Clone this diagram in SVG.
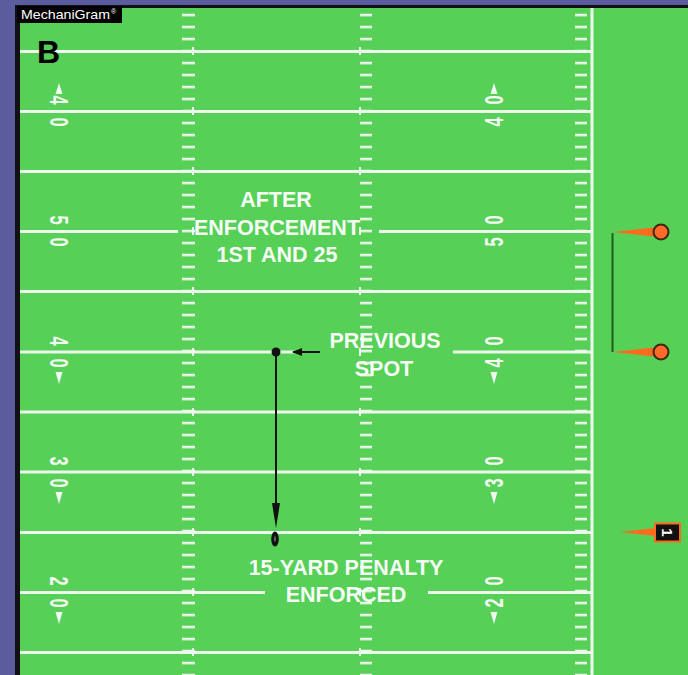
<svg xmlns="http://www.w3.org/2000/svg" width="688" height="675" viewBox="0 0 688 675">
<defs>
<style>
.yl{stroke:#eef8ee;stroke-width:3;fill:none}
.num{font-family:"Liberation Sans",Arial,sans-serif;font-size:25px;font-weight:bold;fill:#f2faf2;text-anchor:middle;dominant-baseline:central}
.lbl{font-family:"Liberation Sans",Arial,sans-serif;font-size:21.5px;font-weight:bold;fill:#f6fcf6;text-anchor:middle}
.arr{fill:#f2faf2}
.flag{fill:#ff6a1e}
.disc{fill:#ff6a2a;stroke:#3b2a12;stroke-width:2}
</style>
<pattern id="hash" patternUnits="userSpaceOnUse" x="0" y="49.75" width="688" height="12">
<rect x="182" y="0" width="13" height="2.5" fill="#eef8ee"/>
<rect x="360" y="0" width="12" height="2.5" fill="#eef8ee"/>
<rect x="575" y="0" width="12" height="2.5" fill="#eef8ee"/>
</pattern>
<marker id="ah" markerWidth="10" markerHeight="8" refX="9" refY="4" orient="auto" markerUnits="userSpaceOnUse">
<path d="M0,0 L10,4 L0,8 Z" fill="#111"/>
</marker>
</defs>

<rect x="0" y="0" width="688" height="675" fill="#5a5c9e"/>
<rect x="15" y="5" width="673" height="670" fill="#111"/>
<rect x="20" y="8" width="668" height="667" fill="#56d057"/>

<g id="field-marks">
<rect x="20" y="8" width="572" height="667" fill="url(#hash)"/>
<g fill="#eef8ee">
<rect x="192" y="47" width="2" height="8"/><rect x="359" y="47" width="2" height="8"/>
<rect x="192" y="107" width="2" height="8"/><rect x="359" y="107" width="2" height="8"/>
<rect x="192" y="167" width="2" height="8"/><rect x="359" y="167" width="2" height="8"/>
<rect x="192" y="227" width="2" height="8"/><rect x="359" y="227" width="2" height="8"/>
<rect x="192" y="287" width="2" height="8"/><rect x="359" y="287" width="2" height="8"/>
<rect x="192" y="348" width="2" height="8"/><rect x="359" y="348" width="2" height="8"/>
<rect x="192" y="408" width="2" height="8"/><rect x="359" y="408" width="2" height="8"/>
<rect x="192" y="468" width="2" height="8"/><rect x="359" y="468" width="2" height="8"/>
<rect x="192" y="528" width="2" height="8"/><rect x="359" y="528" width="2" height="8"/>
<rect x="192" y="588" width="2" height="8"/><rect x="359" y="588" width="2" height="8"/>
<rect x="192" y="648" width="2" height="8"/><rect x="359" y="648" width="2" height="8"/>
</g>
<path class="yl" d="M20,51.5H592 M20,111.5H592 M20,171.5H592 M20,231.5H178 M379,231.5H592 M20,291.5H592 M20,352H294 M453,352H592 M20,412H592 M20,472H592 M20,532.5H592 M20,592.5H265 M428,592.5H592 M20,652.5H592"/>
<rect x="590.5" y="8" width="3" height="667" fill="#eef8ee"/>
</g>

<g id="logo">
<rect x="17" y="6" width="105" height="17" fill="#000"/>
<text x="21" y="19" font-family="'Liberation Sans',Arial,sans-serif" font-size="13" fill="#fff" textLength="89" lengthAdjust="spacingAndGlyphs">MechaniGram</text>
<text x="111" y="14" font-family="'Liberation Sans',Arial,sans-serif" font-size="7" fill="#fff">®</text>
</g>

<text id="panel-letter" x="37" y="63" font-family="'Liberation Sans',Arial,sans-serif" font-size="32" font-weight="bold" fill="#000">B</text>

<g id="numbers-left">
<text class="num" transform="translate(59,100) rotate(90) scale(0.66,1)">4</text>
<text class="num" transform="translate(59,122) rotate(90) scale(0.66,1)">0</text>
<polygon class="arr" points="55.5,94 62.5,94 59,83"/>
<text class="num" transform="translate(59,220) rotate(90) scale(0.66,1)">5</text>
<text class="num" transform="translate(59,242) rotate(90) scale(0.66,1)">0</text>
<text class="num" transform="translate(59,341) rotate(90) scale(0.66,1)">4</text>
<text class="num" transform="translate(59,363) rotate(90) scale(0.66,1)">0</text>
<polygon class="arr" points="55.5,372 62.5,372 59,384"/>
<text class="num" transform="translate(59,461) rotate(90) scale(0.66,1)">3</text>
<text class="num" transform="translate(59,483) rotate(90) scale(0.66,1)">0</text>
<polygon class="arr" points="55.5,492 62.5,492 59,504"/>
<text class="num" transform="translate(59,581) rotate(90) scale(0.66,1)">2</text>
<text class="num" transform="translate(59,603) rotate(90) scale(0.66,1)">0</text>
<polygon class="arr" points="55.5,612 62.5,612 59,624"/>
</g>

<g id="numbers-right">
<text class="num" transform="translate(494,122) rotate(-90) scale(0.66,1)">4</text>
<text class="num" transform="translate(494,100) rotate(-90) scale(0.66,1)">0</text>
<polygon class="arr" points="490.5,94 497.5,94 494,83"/>
<text class="num" transform="translate(494,242) rotate(-90) scale(0.66,1)">5</text>
<text class="num" transform="translate(494,220) rotate(-90) scale(0.66,1)">0</text>
<text class="num" transform="translate(494,363) rotate(-90) scale(0.66,1)">4</text>
<text class="num" transform="translate(494,341) rotate(-90) scale(0.66,1)">0</text>
<polygon class="arr" points="490.5,372 497.5,372 494,384"/>
<text class="num" transform="translate(494,483) rotate(-90) scale(0.66,1)">3</text>
<text class="num" transform="translate(494,461) rotate(-90) scale(0.66,1)">0</text>
<polygon class="arr" points="490.5,492 497.5,492 494,504"/>
<text class="num" transform="translate(494,603) rotate(-90) scale(0.66,1)">2</text>
<text class="num" transform="translate(494,581) rotate(-90) scale(0.66,1)">0</text>
<polygon class="arr" points="490.5,612 497.5,612 494,624"/>
</g>

<g id="label-after">
<text class="lbl" x="276" y="207">AFTER</text>
<text class="lbl" x="277" y="235">ENFORCEMENT</text>
<text class="lbl" x="277" y="262">1ST AND 25</text>
</g>

<g id="label-previous">
<text class="lbl" x="385" y="348">PREVIOUS</text>
<text class="lbl" x="384" y="376">SPOT</text>
</g>

<g id="label-penalty">
<text class="lbl" x="346" y="575">15-YARD PENALTY</text>
<text class="lbl" x="346" y="602">ENFORCED</text>
</g>

<g id="connectors">
<line x1="276" y1="352" x2="276" y2="505" stroke="#111" stroke-width="2"/>
<polygon points="272,503 280,503 276,528" fill="#111"/>
<line x1="320" y1="352" x2="293" y2="352" stroke="#111" stroke-width="2" marker-end="url(#ah)"/>
</g>

<g id="previous-spot">
<circle cx="276" cy="352" r="4.5" fill="#111"/>
</g>

<g id="ball">
<ellipse cx="275" cy="539" rx="3.8" ry="7.5" fill="#111"/>
<ellipse cx="275" cy="539" rx="1" ry="3" fill="#666"/>
</g>

<g id="chain">
<line x1="612.5" y1="233" x2="612.5" y2="352" stroke="#1d5f1d" stroke-width="2"/>
</g>

<g id="stake-top">
<polygon class="flag" points="613,232 654,227.5 654,236.5"/>
<circle class="disc" cx="661" cy="232" r="7.5"/>
</g>

<g id="stake-bottom">
<polygon class="flag" points="613,352 654,347.5 654,356.5"/>
<circle class="disc" cx="661" cy="352" r="7.5"/>
</g>

<g id="down-marker">
<polygon class="flag" points="620,532 655,528 655,536"/>
<rect x="655" y="523.5" width="25" height="18" fill="#111" stroke="#ff6a1e" stroke-width="2"/>
<text transform="translate(667.5,532.5) rotate(90)" font-family="'Liberation Sans',Arial,sans-serif" font-size="15" font-weight="bold" fill="#fff" text-anchor="middle" dominant-baseline="central">1</text>
</g>
</svg>
